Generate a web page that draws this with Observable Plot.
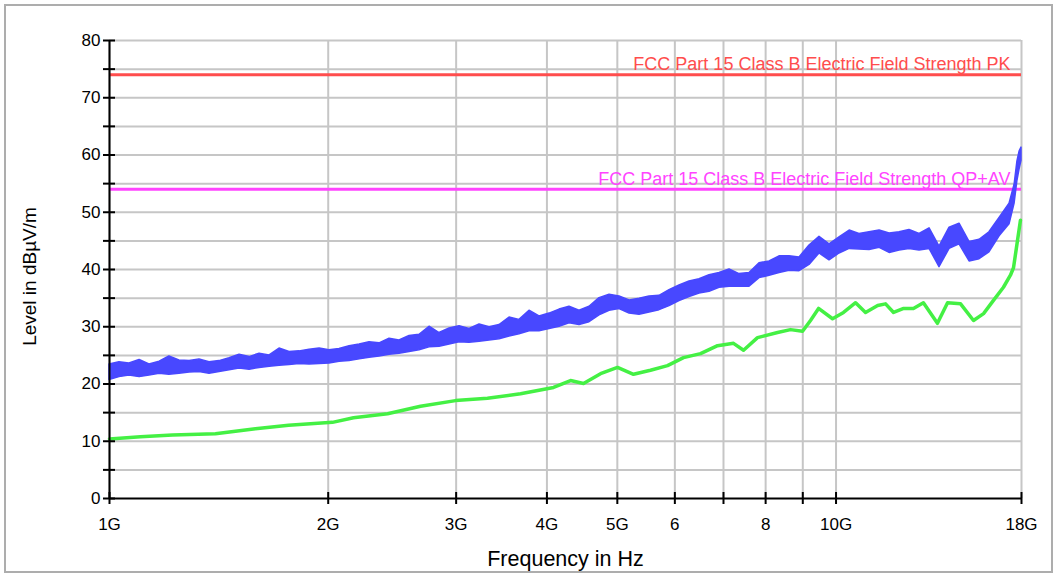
<!DOCTYPE html>
<html><head><meta charset="utf-8">
<script src="https://cdn.jsdelivr.net/npm/d3@7"></script>
<script src="https://cdn.jsdelivr.net/npm/@observablehq/plot@0.6"></script>
<style>
html,body{margin:0;padding:0;background:#fff;}
#chart{position:relative;width:1055px;height:576px;}
</style></head><body><div id="chart"></div>
<script>
// Peak trace (blue) – lower and upper edge of the noisy band, GHz / dBµV/m
const freqPk = [1.000,1.032,1.065,1.100,1.135,1.172,1.209,1.248,1.289,1.330,1.373,1.417,1.463,1.510,1.559,1.609,1.661,1.714,1.769,1.826,1.885,1.946,2.008,
  2.073,2.140,2.209,2.280,2.353,2.429,2.507,2.588,2.671,2.757,2.846,2.938,3.032,3.130,3.231,3.335,3.442,3.553,3.667,3.785,3.907,4.033,
  4.163,4.297,4.435,4.578,4.725,4.878,5.035,5.197,5.364,5.537,5.715,5.899,6.089,6.285,6.488,6.696,6.912,7.135,7.364,7.601,7.846,8.099,8.360,8.629,
  8.907,9.193,9.489,9.795,10.11,10.44,10.77,11.12,11.48,11.85,12.23,12.62,13.03,13.45,13.88,14.33,14.79,15.27,15.76,16.26,16.79,17.33,17.61,17.77,17.89,18.0];
const pkLow  = [20.7,21.2,21.5,21.2,21.5,21.8,21.6,21.8,22.0,22.1,21.8,22.1,22.4,22.7,22.5,22.8,23.0,23.2,23.3,23.5,23.4,23.5,23.6,
  23.9,24.0,24.3,24.6,24.8,25.1,25.3,25.6,25.9,26.4,26.5,26.9,27.3,27.2,27.4,27.6,27.8,28.3,28.7,29.2,29.2,29.6,
  30.0,30.6,30.3,30.8,32.0,32.8,33.1,32.3,32.1,32.5,32.9,33.6,34.5,35.2,35.8,36.1,36.8,37.0,37.0,37.0,38.5,38.9,39.4,39.8,
  39.7,40.8,42.8,41.6,42.8,43.6,43.5,43.4,43.8,42.9,43.3,43.6,43.3,43.6,40.4,43.6,44.4,41.4,41.8,43.0,45.8,47.9,51.5,55.5,57.5,59.0];
const pkHigh = [23.4,23.8,23.6,24.2,23.4,23.9,24.8,24.1,24.0,24.3,23.8,24.0,24.5,25.1,24.7,25.3,25.0,26.2,25.6,25.7,26.0,26.2,25.9,
  26.1,26.6,26.9,27.3,27.1,27.9,27.6,28.4,28.6,30.0,28.9,29.7,30.1,29.6,30.4,29.9,30.3,31.6,31.2,32.8,31.8,32.3,
  33.0,33.5,32.8,33.5,35.0,35.6,35.3,34.6,34.9,35.3,35.4,36.4,37.2,37.9,38.3,39.0,39.4,40.0,39.2,39.4,41.1,41.4,42.3,42.3,
  42.1,44.2,45.7,44.4,45.6,46.8,46.2,46.5,46.8,46.3,46.5,46.9,46.2,47.2,44.0,47.3,48.0,44.8,45.2,46.5,49.0,51.5,54.8,58.9,60.6,61.3];
// Average trace (green)
const freqAv = [1.0,1.103,1.221,1.399,1.588,1.764,2.027,2.167,2.414,2.680,2.994,3.313,3.679,4.085,4.311,4.492,4.741,5.003,5.263,5.554,5.862,6.167,6.509,6.869,7.226,7.459,7.797,8.308,8.657,8.993,9.223,9.461,9.890,10.24,10.64,10.98,11.41,11.70,12.00,12.39,12.78,13.19,13.79,14.24,14.84,15.46,15.96,16.47,17.00,17.38,17.55,17.77,17.94];
const avLevel = [10.4,10.8,11.1,11.3,12.2,12.8,13.3,14.1,14.8,16.1,17.1,17.5,18.3,19.4,20.6,20.1,21.8,22.9,21.7,22.4,23.2,24.6,25.3,26.7,27.1,25.9,28.1,29.0,29.5,29.2,31.1,33.2,31.4,32.5,34.2,32.5,33.7,34.0,32.5,33.2,33.2,34.2,30.6,34.2,34.0,31.1,32.3,34.6,36.9,39.0,40.3,45.0,48.6];
// Limit lines
const limitNames  = ["FCC Part 15 Class B Electric Field Strength PK","FCC Part 15 Class B Electric Field Strength QP+AV"];
const limitLevels = [74, 54];
// Axis ticks
const gridFreqs  = [1,2,3,4,5,6,7,8,9,10,18];
const labelFreqs = [1,2,3,4,5,6,8,10,18];
const labelTexts = ["1G","2G","3G","4G","5G","6","8","10G","18G"];
const yTicks  = [0,5,10,15,20,25,30,35,40,45,50,55,60,65,70,75,80];
const yLabels = [0,10,20,30,40,50,60,70,80];

const pk = freqPk.map((f,i)=>({f, lo: pkLow[i], hi: pkHigh[i]}));
const av = freqAv.map((f,i)=>({f, v: avLevel[i]}));
const font = "'Liberation Sans', Arial, Helvetica, sans-serif";
const blue = "#4848ff", green = "#44f044", red = "#ff4d4d", magenta = "#ff44ff", grid = "#c6c6c6";

const plot = Plot.plot({
  width: 1055, height: 576,
  marginLeft: 109, marginRight: 34, marginTop: 40, marginBottom: 78,
  style: {fontFamily: font, background: "white", color: "black"},
  x: {type: "log", domain: [1, 18]},
  y: {domain: [0, 80]},
  marks: [
    Plot.ruleY(yTicks.filter(d => d > 0), {stroke: grid, strokeWidth: 2}),
    Plot.ruleX(gridFreqs, {stroke: grid, strokeWidth: 2}),
    Plot.ruleY([limitLevels[0]], {stroke: red, strokeWidth: 3}),
    Plot.ruleY([limitLevels[1]], {stroke: magenta, strokeWidth: 3}),
    Plot.text([limitNames[0]], {x: 18, y: limitLevels[0], text: d => d, textAnchor: "end", lineAnchor: "bottom", dx: -11, dy: -5, fill: red, fontSize: 18}),
    Plot.text([limitNames[1]], {x: 18, y: limitLevels[1], text: d => d, textAnchor: "end", lineAnchor: "bottom", dx: -11, dy: -4, fill: magenta, fontSize: 18}),
    Plot.areaY(pk, {x: "f", y1: "lo", y2: "hi", fill: blue, stroke: blue, strokeWidth: 1.5}),
    Plot.line(av, {x: "f", y: "v", stroke: green, strokeWidth: 3.5}),
    Plot.ruleX([1], {stroke: "black", strokeWidth: 2}),
    Plot.ruleY([0], {stroke: "black", strokeWidth: 2}),
    Plot.axisY(yTicks, {tickSize: 12, dx: 6, fill: "none", stroke: "black", strokeWidth: 2, label: null}),
    Plot.axisY(yLabels, {tickSize: 0, tickPadding: 9, fontSize: 17, fill: "black", label: null}),
    Plot.axisX(gridFreqs, {tickSize: 12, dy: -6, fill: "none", stroke: "black", strokeWidth: 2, label: null}),
    Plot.axisX(labelFreqs, {tickSize: 0, tickPadding: 19, fontSize: 17, fill: "black", label: null,
      tickFormat: d => labelTexts[labelFreqs.indexOf(d)]}),
    Plot.text(["Frequency in Hz"], {frameAnchor: "bottom", text: d => d, dy: 61, textAnchor: "middle", lineAnchor: "middle", fontSize: 21.5, fill: "black"}),
    Plot.text(["Level in dBµV/m"], {frameAnchor: "left", text: d => d, dx: -80, dy: 7, rotate: -90, textAnchor: "middle", lineAnchor: "middle", fontSize: 19, fill: "black"})
  ]
});
d3.select(plot).append("rect")
  .attr("x", 5).attr("y", 5).attr("width", 1047).attr("height", 567)
  .attr("fill", "none").attr("stroke", "#adadad").attr("stroke-width", 2);
document.getElementById("chart").append(plot);
</script></body></html>
